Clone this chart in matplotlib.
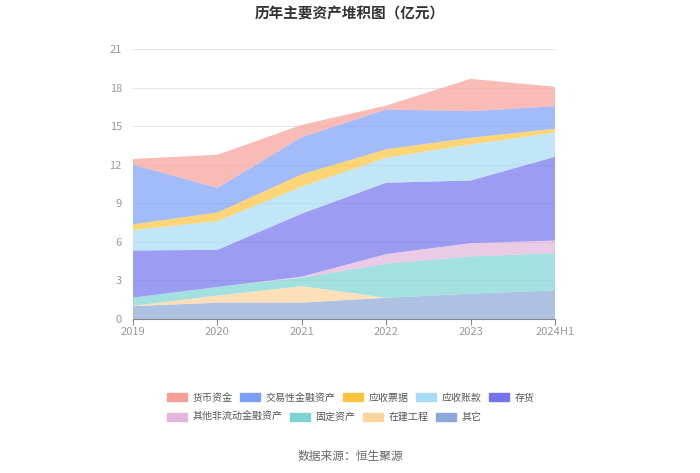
import matplotlib
matplotlib.use('Agg')
import matplotlib.pyplot as plt
from matplotlib.patches import Patch

plt.rcParams['font.family'] = ['Noto Sans CJK SC', 'DejaVu Sans']

years = ['2019', '2020', '2021', '2022', '2023', '2024H1']
# stacked from bottom to top (亿元)
qita = [1.00, 1.27, 1.28, 1.65, 1.97, 2.23]
zaijian = [0.03, 0.55, 1.27, 0.00, 0.00, 0.00]
guding = [0.64, 0.67, 0.67, 2.65, 2.90, 2.90]
feiliudong = [0.00, 0.00, 0.08, 0.75, 1.03, 0.97]
cunhuo = [3.66, 2.89, 4.90, 5.55, 4.87, 6.52]
yingshou_zk = [1.59, 2.24, 2.10, 1.95, 2.80, 1.88]
yingshou_pj = [0.44, 0.66, 0.95, 0.65, 0.53, 0.30]
jiaoyi = [4.64, 1.92, 2.90, 3.10, 2.06, 1.75]
huobi = [0.45, 2.57, 0.95, 0.30, 2.52, 1.51]

layers = [qita, zaijian, guding, feiliudong, cunhuo, yingshou_zk, yingshou_pj, jiaoyi, huobi]
names = ['其它', '在建工程', '固定资产', '其他非流动金融资产', '存货',
         '应收账款', '应收票据', '交易性金融资产', '货币资金']
colors = ['#8ba8d8', '#fdd49b', '#7dd3d3', '#e3b4dc', '#7372ef',
          '#a6dcf6', '#fcc43c', '#7b9ef7', '#f79f97']

fig = plt.figure(figsize=(7, 4.73), dpi=100)
ax = fig.add_axes([0.19, 0.3256, 0.603, 0.5708])

xs = list(range(len(years)))
ax.stackplot(xs, *layers, colors=colors, alpha=0.7, linewidth=0)

ax.set_xlim(0, len(years) - 1)
ax.set_ylim(0, 21)
ax.set_yticks(range(0, 22, 3))
ax.set_xticks(xs)
ax.set_xticklabels(years)
ax.grid(axis='y', color='#e6e6e6', linewidth=0.8)
ax.set_axisbelow(True)
for side in ['top', 'right', 'left']:
    ax.spines[side].set_visible(False)
ax.spines['bottom'].set_color('#888888')
ax.tick_params(axis='y', length=0, labelsize=8, labelcolor='#999999', pad=8)
ax.tick_params(axis='x', length=4, color='#888888', labelsize=8, labelcolor='#999999', pad=2)

fig.text(0.5, 0.972, '历年主要资产堆积图（亿元）', ha='center', va='center',
         fontsize=10.5, fontweight='bold', color='#333333')
fig.text(0.5, 0.034, '数据来源：恒生聚源', ha='center', va='center',
         fontsize=8.5, color='#666666')

# legend in two rows, flowing left to right
row1 = ['货币资金', '交易性金融资产', '应收票据', '应收账款', '存货']
row2 = ['其他非流动金融资产', '固定资产', '在建工程', '其它']
cmap = dict(zip(names, colors))
leg_kw = dict(frameon=False, fontsize=7.2, labelcolor='#555555', handlelength=2.0,
              handleheight=0.9, handletextpad=0.5, columnspacing=0.8,
              borderaxespad=0, borderpad=0)
l1 = fig.legend(handles=[Patch(color=cmap[n], label=n) for n in row1], ncol=5,
                loc='center left', bbox_to_anchor=(0.239, 0.159), **leg_kw)
l2 = fig.legend(handles=[Patch(color=cmap[n], label=n) for n in row2], ncol=4,
                loc='center left', bbox_to_anchor=(0.239, 0.118), **leg_kw)

fig.savefig('out.png', dpi=100)
